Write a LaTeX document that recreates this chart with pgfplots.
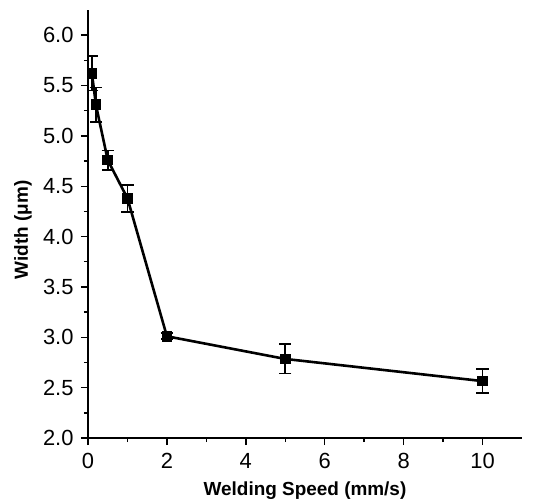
\documentclass[border=0pt]{standalone}
\usepackage{pgfplots}
\pgfplotsset{compat=1.18}
\usepackage{fontspec}
\setmainfont{Liberation Sans}
\begin{document}
\begin{tikzpicture}
\begin{axis}[
scale only axis,
width = 434bp,
height = 428bp,
xmin = 0, xmax = 11,
ymin = 2, ymax = 6.25,
axis x line = bottom,
axis y line = left,
axis line style = {-, line width = 1.8bp, black},
xtick = {0,2,...,10},
ytick = {2,2.5,...,6},
minor x tick num = 1,
minor y tick num = 1,
tick align = outside,
major tick length = 7bp,
minor tick length = 4bp,
tick style = {line width = 1.4bp, black},
/pgf/number format/assume math mode = true,
tick label style = {font = \fontsize{22}{22}\selectfont},
x tick label style = {yshift = -5bp},
y tick label style = {xshift = -4bp, /pgf/number format/fixed, /pgf/number format/fixed zerofill, /pgf/number format/precision = 1},
xlabel = {Welding Speed (mm/s)},
ylabel = {Width (μm)},
label style = {font = \fontsize{19}{19}\selectfont\bfseries},
xlabel style = {at = {(axis description cs:0.5,0)}, anchor = center, yshift = -53bp},
ylabel style = {at = {(axis description cs:0,0.486)}, anchor = center, yshift = 65bp},
]
%% width vs welding speed, with standard deviation
\addplot[black, line width = 2.6bp, mark = square*, mark size = 4bp,
  error bars/.cd, y dir = both, y explicit,
  error bar style = {line width = 1.8bp, black},
  error mark options = {rotate = 90, mark size = 6.2bp, line width = 1.8bp, black}]
coordinates {
( 0.1, 5.62) +- (0, 0.17)
( 0.2, 5.31) +- (0, 0.17)
( 0.5, 4.76) +- (0, 0.095)
( 1,   4.38) +- (0, 0.135)
( 2,   3.01) +- (0, 0.03)
( 5,   2.785) +- (0, 0.145)
( 10,  2.565) +- (0, 0.12)
};
\end{axis}
\pgfresetboundingbox
\path[use as bounding box] (-88bp,-62bp) rectangle (455bp,438bp);
\end{tikzpicture}
\end{document}
